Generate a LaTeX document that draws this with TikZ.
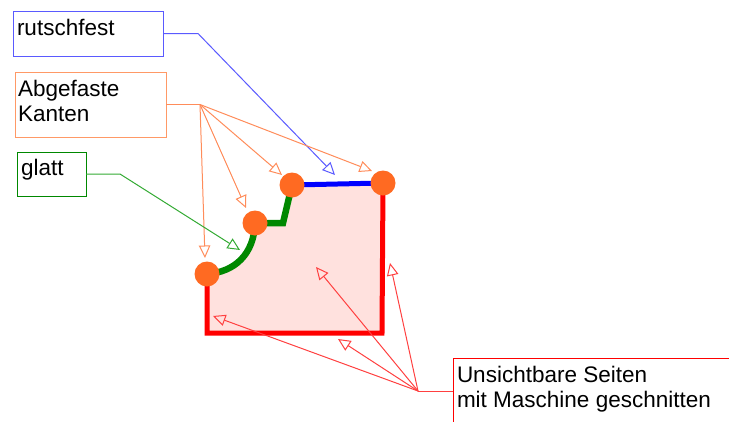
\documentclass[tikz,border=0pt]{standalone}
\usepackage{fontspec}
\setmainfont{Liberation Sans}
\usetikzlibrary{arrows.meta}
\definecolor{cblue}{HTML}{0000FF}
\definecolor{lblue}{HTML}{5A5AFF}
\definecolor{lorange}{HTML}{FF8C5A}
\definecolor{borange}{HTML}{FF9966}
\definecolor{dgreen}{HTML}{008800}
\definecolor{lgreen}{HTML}{33AA33}
\definecolor{cred}{HTML}{FF0000}
\definecolor{lred}{HTML}{FF4040}
\definecolor{cfill}{HTML}{FFE1DE}
\definecolor{corn}{HTML}{FF6A22}
\tikzset{
  labbox/.style={draw, line width=1pt, rectangle, inner sep=0pt, outer sep=0pt, anchor=north west},
  txt/.style={inner sep=0pt, outer sep=0pt, anchor=base west, font=\fontsize{22.5}{25.5}\selectfont},
  conn/.style={line width=1pt, -{Triangle[open, length=12.5pt, width=11.5pt]}},
  plain/.style={line width=1pt},
  cornerdot/.style={circle, fill=corn, draw=none, minimum size=25pt, inner sep=0pt}
}
\begin{document}
\begin{tikzpicture}[x=1pt,y=-1pt]
\useasboundingbox (0,0) rectangle (729,421);
% corner points
\coordinate (p1) at (207,274);
\coordinate (p2) at (255,223);
\coordinate (pk) at (283,223);
\coordinate (p3) at (292,185);
\coordinate (p4) at (383,183);
\coordinate (q1) at (207,333);
\coordinate (q2) at (382,333);
% fill
\fill[cfill] (p1) .. controls (235,272) and (254,254) .. (p2) -- (pk) -- (p3) -- (p4) -- (q2) -- (q1) -- cycle;
% edges
\draw[cred, line width=5pt, line join=miter] (p1) -- (q1) -- (q2) -- (p4);
\draw[cblue, line width=5pt] (p3) -- (p4);
\draw[dgreen, line width=6.5pt] (p1) .. controls (235,272) and (254,254) .. (p2) -- (pk) -- (p3);
% corner dots
\node[cornerdot] (c1) at (p1) {};
\node[cornerdot] (c2) at (p2) {};
\node[cornerdot] (c3) at (p3) {};
\node[cornerdot] (c4) at (p4) {};
% label boxes
\node[labbox, draw=lblue, minimum width=150pt, minimum height=45pt] (rb) at (13,11) {};
\node[txt] (rt) at (17,35) {rutschfest};
\node[labbox, draw=borange, minimum width=151pt, minimum height=65pt] (ab) at (15,72) {};
\node[txt] (at1) at (18,96) {Abgefaste};
\node[txt] (at2) at (18,121) {Kanten};
\node[labbox, draw=dgreen, minimum width=69pt, minimum height=44pt] (gb) at (17,152) {};
\node[txt] (gt) at (21,175) {glatt};
\node[labbox, draw=cred, minimum width=290pt, minimum height=80pt] (ub) at (453,358) {};
\node[txt] (ut1) at (457,382) {Unsichtbare Seiten};
\node[txt] (ut2) at (457,407) {mit Maschine geschnitten};
% hubs and tips
\coordinate (hb) at (198,33.5);
\coordinate (tb) at (335,175);
\coordinate (ha) at (200,104.5);
\coordinate (ta1) at (282,175);
\coordinate (ta2) at (372,171);
\coordinate (ta3) at (246,208);
\coordinate (ta4) at (205,258);
\coordinate (hg) at (120,174);
\coordinate (tg) at (240,250);
\coordinate (hr) at (418,391);
\coordinate (tr1) at (213,316);
\coordinate (tr2) at (338,339);
\coordinate (tr3) at (316,267);
\coordinate (tr4) at (390,263);
% connectors
\draw[lblue, conn] (rb.east) -- (hb) -- (tb);
\draw[lorange, plain] (ab.east |- ha) -- (ha);
\draw[lorange, conn] (ha) -- (ta1);
\draw[lorange, conn] (ha) -- (ta2);
\draw[lorange, conn] (ha) -- (ta3);
\draw[lorange, conn] (ha) -- (ta4);
\draw[lgreen, conn] (gb.east) -- (hg) -- (tg);
\draw[lred, plain] (ub.west |- hr) -- (hr);
\draw[lred, conn] (hr) -- (tr1);
\draw[lred, conn] (hr) -- (tr2);
\draw[lred, conn] (hr) -- (tr3);
\draw[lred, conn] (hr) -- (tr4);
\end{tikzpicture}
\end{document}
